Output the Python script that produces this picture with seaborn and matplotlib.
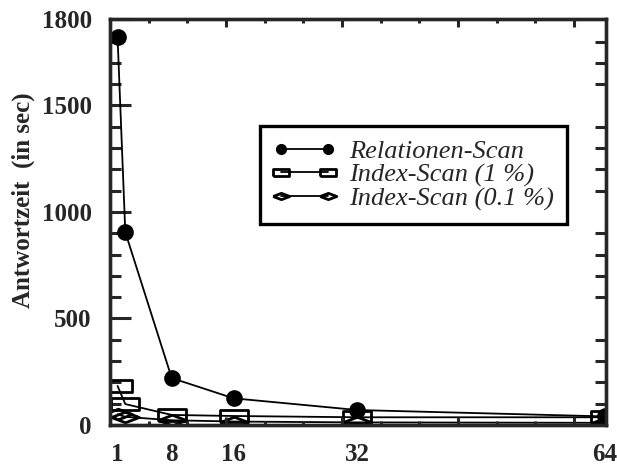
import numpy as np
import pandas as pd
import matplotlib
matplotlib.use("Agg")
import matplotlib.pyplot as plt
import seaborn as sns

# --- data ---
knoten = [1, 2, 8, 16, 32, 64]
relationen_scan = [1820, 905, 220, 125, 70, 40]
index_scan_1 = [183, 98, 47, 42, 36, 36]
index_scan_01 = [50, 38, 22, 16, 12, 10]

x_ticks = [1, 8, 16, 32, 64]
y_ticks = [0, 500, 1000, 1500, 1905]
y_ticklabels = ["0", "500", "1000", "1500", "1800"]

df = pd.DataFrame({
    "knoten": knoten * 3,
    "zeit": relationen_scan + index_scan_1 + index_scan_01,
    "serie": (["Relationen-Scan"] * len(knoten)
              + ["Index-Scan (1 %)"] * len(knoten)
              + ["Index-Scan (0.1 %)"] * len(knoten)),
})

sns.set_style("ticks")
plt.rcParams["font.family"] = ["Liberation Serif", "DejaVu Serif"]

fig = plt.figure(figsize=(6.17, 4.68), dpi=100)
ax = fig.add_axes([0.178, 0.092, 0.804, 0.867])

# wide marker shapes like in the original
rect = [(-1, -0.42), (1, -0.42), (1, 0.42), (-1, 0.42), (-1, -0.42)]
diam = [(-1, 0), (0, -0.38), (1, 0), (0, 0.38), (-1, 0)]

styles = {
    "Relationen-Scan": dict(marker="o", markersize=10, mfc="black"),
    "Index-Scan (1 %)": dict(marker=rect, markersize=20, mfc="none"),
    "Index-Scan (0.1 %)": dict(marker=diam, markersize=20, mfc="none"),
}
for name, st in styles.items():
    sub = df[df["serie"] == name]
    sns.lineplot(data=sub, x="knoten", y="zeit", ax=ax, color="black",
                 linewidth=1.3, marker=st["marker"], markersize=st["markersize"],
                 markerfacecolor=st["mfc"], markeredgecolor="black",
                 markeredgewidth=2, label=name)

ax.set_xlim(0, 64.1)
ax.set_ylim(0, 1905)

ax.set_xticks(x_ticks)
ax.set_xticklabels([str(v) for v in x_ticks])
ax.set_yticks(y_ticks)
ax.set_yticklabels(y_ticklabels)
ax.set_yticks(np.arange(100, 1900, 100), minor=True)
ax.tick_params(axis="x", which="major", length=0, pad=13)
ax.tick_params(axis="y", which="major", direction="in", length=15, width=2.2,
               left=True, right=False, pad=13)
ax.tick_params(axis="y", which="minor", direction="in", length=8, width=2.2,
               left=True, right=True)
for lab in ax.get_xticklabels() + ax.get_yticklabels():
    lab.set_fontweight("bold")
    lab.set_fontsize(18)

# the extra inward ticks along top and bottom
ax2 = ax.twiny()
ax2.set_xlim(ax.get_xlim())
ax2.set_xticks([15, 30, 45, 60])
ax2.set_xticks(np.arange(5, 64, 5), minor=True)
ax2.tick_params(axis="x", which="major", direction="in", length=6, width=2.2,
                top=True, bottom=True, labeltop=False, labelbottom=False)
ax2.tick_params(axis="x", which="minor", direction="in", length=3, width=2.2,
                top=True, bottom=True)
for a in (ax, ax2):
    for sp in a.spines.values():
        sp.set_linewidth(2.4)
        sp.set_visible(True)

ax.set_xlabel("")
ax.set_ylabel("Antwortzeit  (in sec)", fontsize=18, fontweight="bold")
ax.yaxis.set_label_coords(-0.15, 0.554)

leg = ax.legend(loc="upper left", bbox_to_anchor=(0.302, 0.736), borderaxespad=0,
                numpoints=2, handlelength=2.4, fancybox=False, frameon=True,
                borderpad=0.5, labelspacing=0.0, handletextpad=0.5, markerscale=0.6,
                prop={"family": "Liberation Serif", "style": "italic", "size": 19})
leg.get_frame().set_edgecolor("black")
leg.get_frame().set_linewidth(2.4)
leg.get_frame().set_alpha(1)

fig.savefig("out.png", dpi=100)
